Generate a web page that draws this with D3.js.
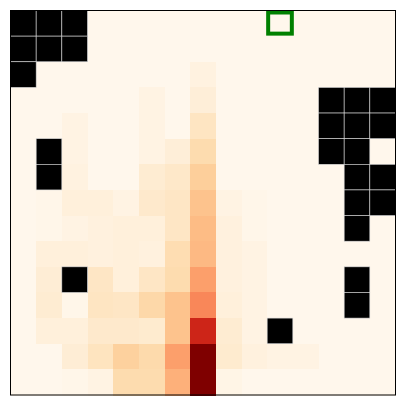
<!doctype html>
<html>
<head>
<meta charset="utf-8">
<style>
    body { margin: 0; background: #fff; }
</style>
</head>
<body>
<div class="chart"></div>
<script src="https://d3js.org/d3.v7.min.js"></script>
<script>

    // grid values (null = masked cell, drawn black)
    let rows = d3.range(15);
    let cols = d3.range(15);
    let values = [
        [null, null, null, 0, 0, 0, 0, 0, 0, 0, 0, 0, 0, 0, 0],
        [null, null, null, 0, 0, 0, 0, 0, 0, 0, 0, 0, 0, 0, 0],
        [null, 0, 0, 0, 0, 0, 0, 4, 0, 0, 0, 0, 0, 0, 0],
        [0, 0, 0, 0, 0, 3, 0, 7, 0, 0, 0, 0, null, null, null],
        [0, 0, 3, 0, 0, 3, 0, 14, 0, 0, 0, 0, null, null, null],
        [0, null, 3, 0, 0, 3, 7, 20, 0, 0, 0, 0, null, null, 0],
        [0, null, 4, 0, 0, 9, 12, 27, 0, 0, 0, 0, 0, null, null],
        [0, 1, 6, 6, 3, 11, 13, 33, 3, 1, 0, 0, 0, null, null],
        [0, 1, 3, 5, 6, 6, 13, 36, 5, 1, 0, 0, 0, null, 0],
        [0, 6, 6, 5, 6, 5, 19, 37, 5, 3, 0, 0, 0, 0, 0],
        [0, 8, null, 13, 6, 13, 20, 45, 5, 3, 0, 0, 0, null, 0],
        [0, 9, 1, 14, 13, 22, 33, 52, 6, 3, 0, 0, 0, null, 0],
        [0, 6, 6, 11, 11, 10, 33, 78, 9, 3, null, 0, 0, 0, 0],
        [0, 0, 8, 15, 26, 21, 45, 100, 10, 5, 3, 3, 0, 0, 0],
        [0, 0, 1, 3, 20, 20, 40, 100, 2, 0, 0, 0, 0, 0, 0]
    ];
    let highlight = [{row: 0, col: 10}];

    let plot = {left: 10.5, top: 10.5, right: 395.5, bottom: 395};

    let svg = d3.select('.chart').append('svg')
        .attr('width', 405)
        .attr('height', 405);

    let x = d3.scaleBand().domain(cols).range([plot.left, plot.right]);
    let y = d3.scaleBand().domain(rows).range([plot.top, plot.bottom]);
    let color = d3.scaleSequential(d3.interpolateOrRd).domain([0, 100]);

    let cells = [];
    values.forEach((row, r) => row.forEach((v, c) => cells.push({r: r, c: c, v: v})));

    // coloured cells
    svg.append('g')
        .attr('shape-rendering', 'crispEdges')
        .selectAll('rect')
        .data(cells.filter(d => d.v !== null))
        .join('rect')
        .attr('x', d => x(d.c))
        .attr('y', d => y(d.r))
        .attr('width', x.bandwidth() + 0.5)
        .attr('height', y.bandwidth() + 0.5)
        .attr('fill', d => color(d.v));

    // masked cells
    svg.append('g')
        .selectAll('rect')
        .data(cells.filter(d => d.v === null))
        .join('rect')
        .attr('x', d => x(d.c))
        .attr('y', d => y(d.r))
        .attr('width', x.bandwidth())
        .attr('height', y.bandwidth())
        .attr('fill', '#000')
        .attr('stroke', '#d9d9d9')
        .attr('stroke-width', 0.6);

    // clip for the highlight box
    svg.append('clipPath').attr('id', 'plot-clip')
        .append('rect')
        .attr('x', plot.left).attr('y', plot.top)
        .attr('width', plot.right - plot.left)
        .attr('height', plot.bottom - plot.top);

    svg.append('g')
        .attr('clip-path', 'url(#plot-clip)')
        .selectAll('rect')
        .data(highlight)
        .join('rect')
        .attr('x', d => x(d.col) + 1)
        .attr('y', d => y(d.row) + 2)
        .attr('width', x.bandwidth() - 2)
        .attr('height', y.bandwidth() - 4.5)
        .attr('fill', 'none')
        .attr('stroke', 'green')
        .attr('stroke-width', 4);

    // frame
    svg.append('rect')
        .attr('x', plot.left)
        .attr('y', plot.top)
        .attr('width', plot.right - plot.left)
        .attr('height', plot.bottom - plot.top)
        .attr('fill', 'none')
        .attr('stroke', '#000')
        .attr('stroke-width', 1);

</script>
</body>
</html>
